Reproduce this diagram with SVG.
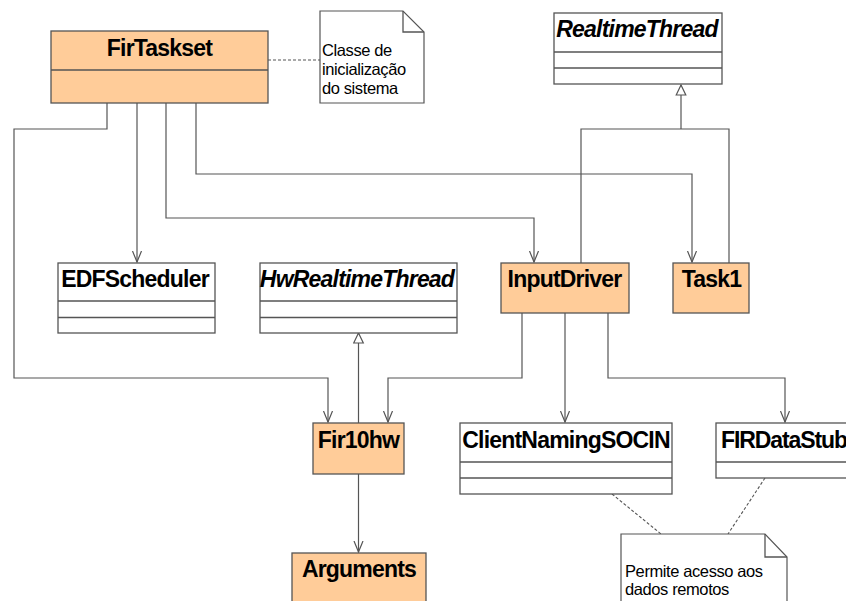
<svg xmlns="http://www.w3.org/2000/svg" width="846" height="601" viewBox="0 0 846 601">
<defs>
<style>
.box{fill:#ffffff;stroke:#555555;stroke-width:1.3}
.act{fill:#ffcc99;stroke:#555555;stroke-width:1.3}
.div{stroke:#555555;stroke-width:1.3;fill:none}
.t{font-family:"Liberation Sans",Arial,sans-serif;font-weight:bold;font-size:23px;letter-spacing:-0.8px;fill:#000;text-anchor:middle}
.ti{font-style:italic}
.n{font-family:"Liberation Sans",Arial,sans-serif;font-size:16.5px;letter-spacing:-0.4px;fill:#000}
.c{fill:none;stroke:#555555;stroke-width:1.2}
.d{fill:none;stroke:#555555;stroke-width:1.1;stroke-dasharray:3,2}
.note{fill:#ffffff;stroke:#555555;stroke-width:1.2}
</style>
<marker id="open" markerWidth="12" markerHeight="12" viewBox="0 0 12 12" refX="11" refY="6" orient="auto" markerUnits="userSpaceOnUse">
<path d="M0,1.5 L11,6 L0,10.5" fill="none" stroke="#555555" stroke-width="1.2"/>
</marker>
<marker id="tri" markerWidth="12" markerHeight="12" viewBox="0 0 12 12" refX="11" refY="6" orient="auto" markerUnits="userSpaceOnUse">
<path d="M1,1.2 L11,6 L1,10.8 Z" fill="#ffffff" stroke="#555555" stroke-width="1.2"/>
</marker>
</defs>
<rect width="846" height="601" fill="#ffffff"/>

<g id="connectors">
<path class="c" d="M107,103 V129 H14 V378 H328 V422" marker-end="url(#open)"/>
<path class="c" d="M137,103 V262" marker-end="url(#open)"/>
<path class="c" d="M166,103 V218 H534 V262" marker-end="url(#open)"/>
<path class="c" d="M196,103 V174 H692 V262" marker-end="url(#open)"/>
<path class="c" d="M581,263 V129 H729 V263"/>
<path class="c" d="M681,129 V85" marker-end="url(#tri)"/>
<path class="c" d="M358.5,423 V333" marker-end="url(#tri)"/>
<path class="c" d="M522,313 V378 H388 V422" marker-end="url(#open)"/>
<path class="c" d="M565,313 V422" marker-end="url(#open)"/>
<path class="c" d="M608,313 V378 H785 V422" marker-end="url(#open)"/>
<path class="c" d="M358.5,474 V552" marker-end="url(#open)"/>
<path class="d" d="M268,60 H320"/>
<path class="d" d="M612,494 L661,534"/>
<path class="d" d="M765,478 L728,534"/>
</g>

<g id="FirTaskset">
<rect class="act" x="51" y="31" width="217" height="72"/>
<line class="div" x1="51" y1="70" x2="268" y2="70"/>
<text class="t" x="159.5" y="56">FirTaskset</text>
</g>

<g id="note1">
<path class="note" d="M320,11 H403 L424,32 V103 H320 Z"/>
<path class="div" d="M403,11 V32 H424"/>
<text class="n" x="322" y="56">Classe de</text>
<text class="n" x="322" y="75">inicialização</text>
<text class="n" x="322" y="94">do sistema</text>
</g>

<g id="RealtimeThread">
<rect class="box" x="554" y="13" width="168" height="71"/>
<line class="div" x1="554" y1="52" x2="722" y2="52"/>
<line class="div" x1="554" y1="68" x2="722" y2="68"/>
<text class="t ti" x="637" y="37">RealtimeThread</text>
</g>

<g id="EDFScheduler">
<rect class="box" x="58" y="263" width="157" height="70"/>
<line class="div" x1="58" y1="301" x2="215" y2="301"/>
<line class="div" x1="58" y1="317.5" x2="215" y2="317.5"/>
<text class="t" x="135" y="287">EDFScheduler</text>
</g>

<g id="HwRealtimeThread">
<rect class="box" x="260" y="263" width="197" height="70"/>
<line class="div" x1="260" y1="301" x2="457" y2="301"/>
<line class="div" x1="260" y1="317.5" x2="457" y2="317.5"/>
<text class="t ti" x="357" y="287">HwRealtimeThread</text>
</g>

<g id="InputDriver">
<rect class="act" x="501" y="263" width="128" height="50"/>
<text class="t" x="564.5" y="287">InputDriver</text>
</g>

<g id="Task1">
<rect class="act" x="673" y="263" width="76" height="50"/>
<text class="t" x="711.5" y="287">Task1</text>
</g>

<g id="Fir10hw">
<rect class="act" x="313" y="423" width="91" height="51"/>
<text class="t" x="358.5" y="448">Fir10hw</text>
</g>

<g id="ClientNamingSOCIN">
<rect class="box" x="460" y="423" width="212" height="71"/>
<line class="div" x1="460" y1="462" x2="672" y2="462"/>
<line class="div" x1="460" y1="478" x2="672" y2="478"/>
<text class="t" x="566" y="448">ClientNamingSOCIN</text>
</g>

<g id="FIRDataStub">
<rect class="box" x="716" y="423" width="150" height="55"/>
<line class="div" x1="716" y1="462" x2="866" y2="462"/>
<text class="t" x="721" y="448" style="text-anchor:start;letter-spacing:-1.1px">FIRDataStub</text>
</g>

<g id="Arguments">
<rect class="act" x="292" y="553" width="134" height="70"/>
<text class="t" x="359" y="577">Arguments</text>
</g>

<g id="note2">
<path class="note" d="M621,534 H765 L787,557 V620 H621 Z"/>
<path class="div" d="M765,534 V557 H787"/>
<text class="n" x="625" y="577">Permite acesso aos</text>
<text class="n" x="625" y="595">dados remotos</text>
</g>
</svg>
